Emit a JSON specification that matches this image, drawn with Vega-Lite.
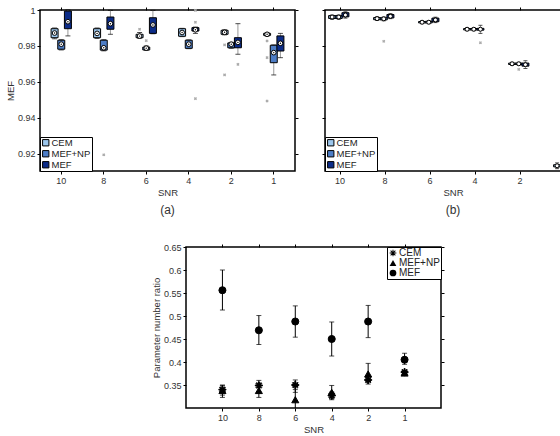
{
"$schema": "https://vega.github.io/schema/vega-lite/v6.json",
"padding": {"left": 4, "top": 5, "right": 0, "bottom": 0},
"datasets": {
"boxA": [
{"SNR":10,"method":"CEM","lo":0.9840,"q1":0.9846,"med":0.9872,"q3":0.9896,"hi":0.9900},
{"SNR":10,"method":"MEF+NP","lo":0.9778,"q1":0.9782,"med":0.9810,"q3":0.9832,"hi":0.9835},
{"SNR":10,"method":"MEF","lo":0.9856,"q1":0.9896,"med":0.9935,"q3":0.9994,"hi":1.0},
{"SNR":8,"method":"CEM","lo":0.9842,"q1":0.9846,"med":0.9870,"q3":0.9896,"hi":0.9900},
{"SNR":8,"method":"MEF+NP","lo":0.9773,"q1":0.9777,"med":0.9790,"q3":0.9832,"hi":0.9835},
{"SNR":8,"method":"MEF","lo":0.9865,"q1":0.9893,"med":0.9924,"q3":0.9961,"hi":0.9998},
{"SNR":6,"method":"CEM","lo":0.9843,"q1":0.9846,"med":0.9855,"q3":0.9865,"hi":0.9875},
{"SNR":6,"method":"MEF+NP","lo":0.9776,"q1":0.9778,"med":0.9788,"q3":0.9794,"hi":0.9800},
{"SNR":6,"method":"MEF","lo":0.9868,"q1":0.9870,"med":0.9917,"q3":0.9957,"hi":0.9998},
{"SNR":4,"method":"CEM","lo":0.9852,"q1":0.9854,"med":0.9875,"q3":0.9896,"hi":0.9898},
{"SNR":4,"method":"MEF+NP","lo":0.9785,"q1":0.9787,"med":0.9810,"q3":0.9832,"hi":0.9834},
{"SNR":4,"method":"MEF","lo":0.9870,"q1":0.9883,"med":0.9890,"q3":0.9902,"hi":0.9905},
{"SNR":2,"method":"CEM","lo":0.9862,"q1":0.9865,"med":0.9876,"q3":0.9887,"hi":0.9890},
{"SNR":2,"method":"MEF+NP","lo":0.9787,"q1":0.9790,"med":0.9810,"q3":0.9817,"hi":0.9820},
{"SNR":2,"method":"MEF","lo":0.9754,"q1":0.9790,"med":0.9820,"q3":0.9846,"hi":0.9924},
{"SNR":1,"method":"CEM","lo":0.9855,"q1":0.9859,"med":0.9865,"q3":0.9870,"hi":0.9873},
{"SNR":1,"method":"MEF+NP","lo":0.9639,"q1":0.9707,"med":0.9763,"q3":0.9804,"hi":0.9806},
{"SNR":1,"method":"MEF","lo":0.9735,"q1":0.9772,"med":0.9815,"q3":0.9856,"hi":0.9870}
],
"outA": [
{"SNR":8,"method":"MEF+NP","value":0.9195},
{"SNR":6,"method":"CEM","value":0.9893},
{"SNR":6,"method":"MEF+NP","value":0.9830},
{"SNR":4,"method":"MEF","value":0.9998},
{"SNR":4,"method":"MEF","value":0.9932},
{"SNR":4,"method":"MEF","value":0.9507},
{"SNR":2,"method":"CEM","value":0.9806},
{"SNR":2,"method":"CEM","value":0.9639},
{"SNR":2,"method":"MEF","value":0.9698},
{"SNR":1,"method":"CEM","value":0.9828},
{"SNR":1,"method":"CEM","value":0.9735},
{"SNR":1,"method":"CEM","value":0.9494}
],
"boxB": [
{"SNR":10,"method":"CEM","lo":0.9948,"q1":0.9953,"med":0.9961,"q3":0.9969,"hi":0.9972},
{"SNR":10,"method":"MEF+NP","lo":0.9948,"q1":0.9953,"med":0.9961,"q3":0.9969,"hi":0.9972},
{"SNR":10,"method":"MEF","lo":0.9955,"q1":0.9962,"med":0.9972,"q3":0.9985,"hi":0.9990},
{"SNR":8,"method":"CEM","lo":0.9942,"q1":0.9946,"med":0.9952,"q3":0.9958,"hi":0.9962},
{"SNR":8,"method":"MEF+NP","lo":0.9940,"q1":0.9945,"med":0.9951,"q3":0.9957,"hi":0.9961},
{"SNR":8,"method":"MEF","lo":0.9952,"q1":0.9956,"med":0.9965,"q3":0.9975,"hi":0.9980},
{"SNR":6,"method":"CEM","lo":0.9924,"q1":0.9928,"med":0.9932,"q3":0.9936,"hi":0.9940},
{"SNR":6,"method":"MEF+NP","lo":0.9924,"q1":0.9928,"med":0.9932,"q3":0.9937,"hi":0.9940},
{"SNR":6,"method":"MEF","lo":0.9930,"q1":0.9935,"med":0.9945,"q3":0.9955,"hi":0.9960},
{"SNR":4,"method":"CEM","lo":0.9885,"q1":0.9889,"med":0.9893,"q3":0.9897,"hi":0.9901},
{"SNR":4,"method":"MEF+NP","lo":0.9885,"q1":0.9889,"med":0.9893,"q3":0.9897,"hi":0.9901},
{"SNR":4,"method":"MEF","lo":0.9870,"q1":0.9888,"med":0.9893,"q3":0.9898,"hi":0.9915},
{"SNR":2,"method":"CEM","lo":0.9693,"q1":0.9697,"med":0.9701,"q3":0.9705,"hi":0.9709},
{"SNR":2,"method":"MEF+NP","lo":0.9693,"q1":0.9697,"med":0.9701,"q3":0.9705,"hi":0.9709},
{"SNR":2,"method":"MEF","lo":0.9675,"q1":0.9688,"med":0.9696,"q3":0.9705,"hi":0.9718},
{"SNR":1,"method":"CEM","lo":0.9118,"q1":0.9128,"med":0.9134,"q3":0.9140,"hi":0.9150},
{"SNR":1,"method":"MEF+NP","lo":0.9118,"q1":0.9126,"med":0.9132,"q3":0.9138,"hi":0.9148},
{"SNR":1,"method":"MEF","lo":0.9115,"q1":0.9124,"med":0.9130,"q3":0.9137,"hi":0.9145}
],
"outB": [
{"SNR":8,"method":"MEF+NP","value":0.9826},
{"SNR":4,"method":"MEF","value":0.9818},
{"SNR":2,"method":"MEF+NP","value":0.9670}
],
"errC": [
{"SNR":10,"method":"CEM","mean":0.340,"lo":0.328,"hi":0.350},
{"SNR":8,"method":"CEM","mean":0.349,"lo":0.332,"hi":0.360},
{"SNR":6,"method":"CEM","mean":0.350,"lo":0.334,"hi":0.361},
{"SNR":4,"method":"CEM","mean":0.327,"lo":0.318,"hi":0.335},
{"SNR":2,"method":"CEM","mean":0.361,"lo":0.352,"hi":0.370},
{"SNR":1,"method":"CEM","mean":0.378,"lo":0.375,"hi":0.381},
{"SNR":10,"method":"MEF+NP","mean":0.338,"lo":0.323,"hi":0.349},
{"SNR":8,"method":"MEF+NP","mean":0.338,"lo":0.323,"hi":0.352},
{"SNR":6,"method":"MEF+NP","mean":0.318,"lo":0.290,"hi":0.340},
{"SNR":4,"method":"MEF+NP","mean":0.334,"lo":0.320,"hi":0.349},
{"SNR":2,"method":"MEF+NP","mean":0.374,"lo":0.363,"hi":0.397},
{"SNR":1,"method":"MEF+NP","mean":0.376,"lo":0.372,"hi":0.380},
{"SNR":10,"method":"MEF","mean":0.556,"lo":0.513,"hi":0.600},
{"SNR":8,"method":"MEF","mean":0.469,"lo":0.438,"hi":0.501},
{"SNR":6,"method":"MEF","mean":0.488,"lo":0.454,"hi":0.522},
{"SNR":4,"method":"MEF","mean":0.450,"lo":0.413,"hi":0.487},
{"SNR":2,"method":"MEF","mean":0.488,"lo":0.453,"hi":0.523},
{"SNR":1,"method":"MEF","mean":0.405,"lo":0.395,"hi":0.419}
]
},
"resolve": {"legend": {"color": "independent", "shape": "independent"}},
"vconcat": [
{"hconcat": [
{
"width": 255, "height": 161,
"title": {"text": "(a)", "orient": "bottom", "fontSize": 12, "font": "Liberation Sans", "fontWeight": "normal", "color": "#333", "offset": 8},
"data": {"name": "boxA"},
"layer": [
{"mark": {"type": "rule", "color": "#999", "strokeWidth": 1},
"encoding": {
"x": {"field": "SNR", "type": "ordinal", "scale": {"type": "band", "domain": [10,8,6,4,2,1], "paddingInner": 0, "paddingOuter": 0}, "axis": {"orient": "bottom", "title": "SNR", "labelAngle": 0, "bandPosition": 0.5}},
"xOffset": {"field": "method", "type": "nominal", "scale": {"type": "point", "domain": ["CEM","MEF+NP","MEF"], "range": [11.25, 31.25]}},
"y": {"field": "lo", "type": "quantitative", "scale": {"domain": [0.9105, 1], "nice": false, "zero": false}, "axis": {"orient": "left", "title": "MEF", "values": [0.92,0.94,0.96,0.98,1], "format": "~g"}},
"y2": {"field": "hi"}}},
{"mark": {"type": "tick", "color": "#000", "size": 5, "thickness": 1},
"encoding": {
"x": {"field": "SNR", "type": "ordinal", "axis": {"orient": "top", "labels": false, "title": null, "bandPosition": 0.5}},
"xOffset": {"field": "method", "type": "nominal", "scale": {"type": "point", "domain": ["CEM","MEF+NP","MEF"], "range": [11.25, 31.25]}},
"y": {"field": "lo", "type": "quantitative", "axis": {"orient": "right", "labels": false, "title": null, "values": [0.92,0.94,0.96,0.98,1]}}}},
{"mark": {"type": "tick", "color": "#000", "size": 5, "thickness": 1},
"encoding": {
"x": {"field": "SNR", "type": "ordinal", "axis": null},
"xOffset": {"field": "method", "type": "nominal", "scale": {"type": "point", "domain": ["CEM","MEF+NP","MEF"], "range": [11.25, 31.25]}},
"y": {"field": "hi", "type": "quantitative", "axis": null}}},
{"mark": {"type": "bar", "width": 7, "stroke": "#000", "strokeWidth": 1},
"encoding": {
"x": {"field": "SNR", "type": "ordinal", "axis": null},
"xOffset": {"field": "method", "type": "nominal", "scale": {"type": "point", "domain": ["CEM","MEF+NP","MEF"], "range": [11.25, 31.25]}},
"y": {"field": "q1", "type": "quantitative", "axis": null},
"y2": {"field": "q3"},
"color": {"field": "method", "type": "nominal", "scale": {"domain": ["CEM","MEF+NP","MEF"], "range": ["#9cc6ec","#4d7dc6","#0c2c88"]},
"legend": {"orient": "bottom-left", "offset": 0, "title": null, "symbolType": "square", "symbolSize": 40, "symbolStrokeColor": "#000", "symbolStrokeWidth": 1, "labelFontSize": 9.5, "labelFont": "Liberation Sans", "labelColor": "#222", "strokeColor": "#000", "fillColor": "#fff", "padding": 1, "rowPadding": 0, "labelOffset": 1}}}},
{"mark": {"type": "point", "shape": "circle", "size": 22, "filled": true, "fill": "#fff", "stroke": "#000", "strokeWidth": 1, "opacity": 1},
"encoding": {
"x": {"field": "SNR", "type": "ordinal", "axis": null},
"xOffset": {"field": "method", "type": "nominal", "scale": {"type": "point", "domain": ["CEM","MEF+NP","MEF"], "range": [11.25, 31.25]}},
"y": {"field": "med", "type": "quantitative", "axis": null}}},
{"mark": {"type": "point", "shape": "circle", "size": 2, "filled": true, "color": "#000", "opacity": 1},
"encoding": {
"x": {"field": "SNR", "type": "ordinal", "axis": null},
"xOffset": {"field": "method", "type": "nominal", "scale": {"type": "point", "domain": ["CEM","MEF+NP","MEF"], "range": [11.25, 31.25]}},
"y": {"field": "med", "type": "quantitative", "axis": null}}},
{"data": {"name": "outA"},
"mark": {"type": "point", "shape": "cross", "angle": 45, "size": 10, "filled": true, "color": "#aaa", "opacity": 1},
"encoding": {
"x": {"field": "SNR", "type": "ordinal", "axis": null},
"xOffset": {"field": "method", "type": "nominal", "scale": {"type": "point", "domain": ["CEM","MEF+NP","MEF"], "range": [11.25, 31.25]}},
"y": {"field": "value", "type": "quantitative", "axis": null}}}
],
"resolve": {"axis": {"x": "independent", "y": "independent"}}
},
{
"width": 236, "height": 161,
"title": {"text": "(b)", "orient": "bottom", "fontSize": 12, "font": "Liberation Sans", "fontWeight": "normal", "color": "#333", "offset": 8, "dx": 10},
"data": {"name": "boxB"},
"layer": [
{"mark": {"type": "rule", "color": "#999", "strokeWidth": 1, "clip": true},
"encoding": {
"x": {"field": "SNR", "type": "ordinal", "scale": {"type": "band", "domain": [10,8,6,4,2,1], "range": [-7.5, 262.5], "paddingInner": 0, "paddingOuter": 0}, "axis": {"orient": "bottom", "title": "SNR", "labelAngle": 0, "values": [10,8,6,4,2], "titleX": 128, "bandPosition": 0.5}},
"xOffset": {"field": "method", "type": "nominal", "scale": {"type": "point", "domain": ["CEM","MEF+NP","MEF"], "range": [12.5, 34]}},
"y": {"field": "lo", "type": "quantitative", "scale": {"domain": [0.9105, 1], "nice": false, "zero": false}, "axis": {"orient": "left", "title": null, "labels": false, "values": [0.92,0.94,0.96,0.98,1]}},
"y2": {"field": "hi"}}},
{"mark": {"type": "tick", "color": "#000", "size": 4, "thickness": 1, "clip": true},
"encoding": {
"x": {"field": "SNR", "type": "ordinal", "axis": {"orient": "top", "labels": false, "title": null, "values": [10,8,6,4,2], "bandPosition": 0.5}},
"xOffset": {"field": "method", "type": "nominal", "scale": {"type": "point", "domain": ["CEM","MEF+NP","MEF"], "range": [12.5, 34]}},
"y": {"field": "lo", "type": "quantitative", "axis": null}}},
{"mark": {"type": "tick", "color": "#000", "size": 4, "thickness": 1, "clip": true},
"encoding": {
"x": {"field": "SNR", "type": "ordinal", "axis": null},
"xOffset": {"field": "method", "type": "nominal", "scale": {"type": "point", "domain": ["CEM","MEF+NP","MEF"], "range": [12.5, 34]}},
"y": {"field": "hi", "type": "quantitative", "axis": null}}},
{"mark": {"type": "bar", "width": 7, "stroke": "#000", "strokeWidth": 1, "clip": true},
"encoding": {
"x": {"field": "SNR", "type": "ordinal", "axis": null},
"xOffset": {"field": "method", "type": "nominal", "scale": {"type": "point", "domain": ["CEM","MEF+NP","MEF"], "range": [12.5, 34]}},
"y": {"field": "q1", "type": "quantitative", "axis": null},
"y2": {"field": "q3"},
"color": {"field": "method", "type": "nominal", "scale": {"domain": ["CEM","MEF+NP","MEF"], "range": ["#9cc6ec","#4d7dc6","#0c2c88"]},
"legend": {"orient": "bottom-left", "offset": 0, "title": null, "symbolType": "square", "symbolSize": 40, "symbolStrokeColor": "#000", "symbolStrokeWidth": 1, "labelFontSize": 9.5, "labelFont": "Liberation Sans", "labelColor": "#222", "strokeColor": "#000", "fillColor": "#fff", "padding": 1, "rowPadding": 0, "labelOffset": 1}}}},
{"mark": {"type": "point", "shape": "circle", "size": 16, "filled": true, "fill": "#fff", "stroke": "#000", "strokeWidth": 1, "opacity": 1, "clip": true},
"encoding": {
"x": {"field": "SNR", "type": "ordinal", "axis": null},
"xOffset": {"field": "method", "type": "nominal", "scale": {"type": "point", "domain": ["CEM","MEF+NP","MEF"], "range": [12.5, 34]}},
"y": {"field": "med", "type": "quantitative", "axis": null}}},
{"data": {"name": "outB"},
"mark": {"type": "point", "shape": "cross", "angle": 45, "size": 10, "filled": true, "color": "#aaa", "opacity": 1, "clip": true},
"encoding": {
"x": {"field": "SNR", "type": "ordinal", "axis": null},
"xOffset": {"field": "method", "type": "nominal", "scale": {"type": "point", "domain": ["CEM","MEF+NP","MEF"], "range": [12.5, 34]}},
"y": {"field": "value", "type": "quantitative", "axis": null}}}
],
"resolve": {"axis": {"x": "independent", "y": "independent"}}
}
], "spacing": 20, "resolve": {"legend": {"color": "independent", "shape": "independent"}}},
{"hconcat": [
{"width": 110, "height": 161, "data": {"values": [{"a": 1}]}, "mark": {"type": "point", "opacity": 0}, "encoding": {}, "view": {"stroke": null}},
{
"width": 255, "height": 161,
"data": {"name": "errC"},
"layer": [
{"mark": {"type": "rule", "color": "#000", "strokeWidth": 1, "clip": true},
"encoding": {
"x": {"field": "SNR", "type": "ordinal", "scale": {"type": "point", "domain": [10,8,6,4,2,1], "padding": 1}, "axis": {"orient": "bottom", "title": "SNR", "labelAngle": 0}},
"y": {"field": "lo", "type": "quantitative", "scale": {"domain": [0.3, 0.65], "nice": false, "zero": false}, "axis": {"orient": "left", "title": "Parameter number ratio", "values": [0.35,0.4,0.45,0.5,0.55,0.6,0.65], "format": "~g"}},
"y2": {"field": "hi"}}},
{"mark": {"type": "tick", "color": "#000", "size": 5, "thickness": 1, "clip": true},
"encoding": {
"x": {"field": "SNR", "type": "ordinal", "axis": {"orient": "top", "labels": false, "title": null}},
"y": {"field": "lo", "type": "quantitative", "axis": {"orient": "right", "labels": false, "title": null, "values": [0.35,0.4,0.45,0.5,0.55,0.6,0.65]}}}},
{"mark": {"type": "tick", "color": "#000", "size": 5, "thickness": 1, "clip": true},
"encoding": {
"x": {"field": "SNR", "type": "ordinal", "axis": null},
"y": {"field": "hi", "type": "quantitative", "axis": null}}},
{"mark": {"type": "point", "filled": true, "fill": "#000", "stroke": "#000", "strokeWidth": 1, "size": 50, "opacity": 1, "clip": true},
"encoding": {
"x": {"field": "SNR", "type": "ordinal", "axis": null},
"y": {"field": "mean", "type": "quantitative", "axis": null},
"shape": {"field": "method", "type": "nominal", "scale": {"domain": ["CEM","MEF+NP","MEF"], "range": ["M-0.15,-1L0.15,-1L0.15,-0.15L1,-0.15L1,0.15L0.15,0.15L0.15,1L-0.15,1L-0.15,0.15L-1,0.15L-1,-0.15L-0.15,-0.15ZM0.601,-0.813L0.813,-0.601L0.212,0L0.813,0.601L0.601,0.813L0,0.212L-0.601,0.813L-0.813,0.601L-0.212,0L-0.813,-0.601L-0.601,-0.813L0,-0.212Z", "triangle-up", "circle"]},
"legend": {"orient": "top-right", "offset": 0, "title": null, "symbolSize": 45, "symbolFillColor": "#000", "symbolStrokeColor": "#000", "symbolStrokeWidth": 0.5, "labelFontSize": 10, "labelFont": "Liberation Sans", "labelColor": "#222", "strokeColor": "#000", "fillColor": "#fff", "padding": 1, "rowPadding": 0, "labelOffset": 1,
"encode": {"symbols": {"update": {"stroke": {"value": "#000"}, "strokeWidth": {"value": 0.5}, "fill": {"value": "#000"}, "opacity": {"value": 1}}}}}}}}
],
"resolve": {"axis": {"x": "independent", "y": "independent"}}
}
], "spacing": 0, "resolve": {"legend": {"color": "independent", "shape": "independent"}}}
],
"spacing": 25,
"config": {
"view": {"stroke": "#000", "strokeWidth": 1.5},
"axis": {"labelFont": "Liberation Sans", "labelFontSize": 9, "titleFont": "Liberation Sans", "titleFontSize": 9.5, "titleFontWeight": "normal", "labelColor": "#333", "titleColor": "#333", "tickColor": "#000", "tickSize": 3, "domain": false, "grid": false, "labelPadding": 2, "titlePadding": 2}
}
}
